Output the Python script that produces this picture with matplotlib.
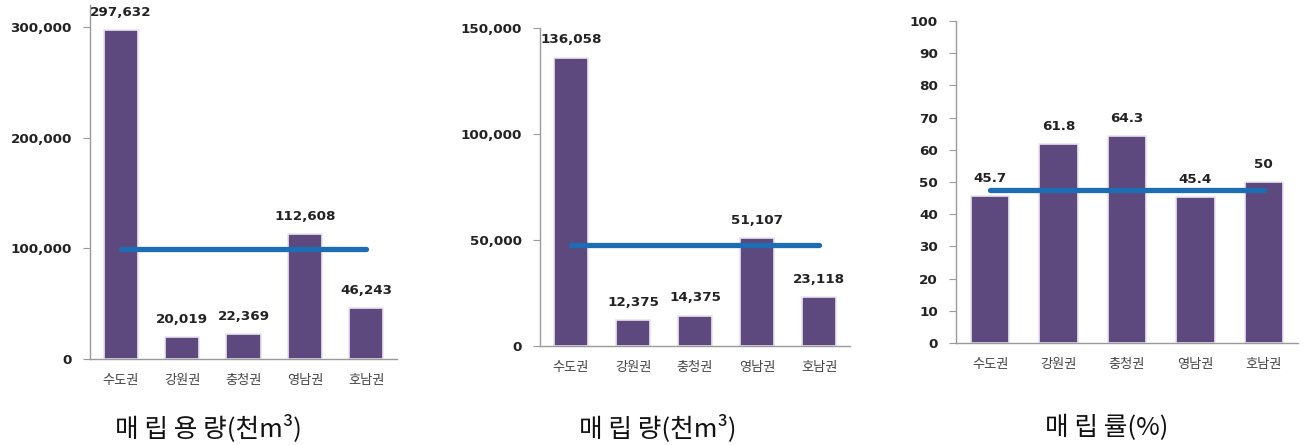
import matplotlib
matplotlib.use("Agg")
import matplotlib.pyplot as plt

plt.rcParams['font.family'] = ['Noto Sans CJK KR', 'DejaVu Sans']

regions = ["수도권", "강원권", "충청권", "영남권", "호남권"]
capacity = [297632, 20019, 22369, 112608, 46243]      # 매립용량 (천m³)
landfilled = [136058, 12375, 14375, 51107, 23118]     # 매립량 (천m³)
fill_rate = [45.7, 61.8, 64.3, 45.4, 50]              # 매립률 (%)

cap_ticks = [0, 100000, 200000, 300000]
land_ticks = [0, 50000, 100000, 150000]
rate_ticks = list(range(0, 101, 10))

titles = ["매 립 용 량(천m³)", "매 립 량(천m³)", "매 립 률(%)"]

BAR = "#5d497d"
EDGE = "#ebe4f3"
LINE = "#1d6db4"
AXIS = "#9a9a9a"

W, H = 1304, 445
fig = plt.figure(figsize=(W / 100, H / 100), dpi=100)
fig.patch.set_facecolor("white")


def box(left, right, top, bottom):
    return [left / W, 1 - bottom / H, (right - left) / W, (bottom - top) / H]


def panel(rect, values, ylim, ticks, avg, fmt, title, title_x):
    ax = fig.add_axes(rect)
    x = list(range(len(values)))
    ax.bar(x, values, width=0.56, color=BAR, edgecolor=EDGE, linewidth=1.2, zorder=2)
    ax.plot([x[0], x[-1]], [avg, avg], color=LINE, linewidth=3.8,
            solid_capstyle="round", zorder=3)
    for xi, v in zip(x, values):
        ax.annotate(fmt(v), (xi, v), xytext=(0, 8), textcoords="offset points",
                    ha="center", va="bottom", fontsize=9.7, fontweight="bold",
                    family="DejaVu Sans", color="#222222")
    ax.set_xlim(-0.5, len(values) - 0.5)
    ax.set_ylim(*ylim)
    ax.set_yticks(ticks)
    ax.set_yticklabels([fmt(t) for t in ticks], fontsize=9.7, fontweight="bold",
                       family="DejaVu Sans", color="#222222")
    ax.set_xticks(x)
    ax.set_xticklabels(regions, fontsize=9.5, color="#444444")
    ax.tick_params(axis="x", length=0, pad=11)
    ax.tick_params(axis="y", length=5, width=0.8, color=AXIS, pad=8)
    for s in ("top", "right"):
        ax.spines[s].set_visible(False)
    for s in ("left", "bottom"):
        ax.spines[s].set_color(AXIS)
        ax.spines[s].set_linewidth(1.0)
    fig.text(title_x / W, 1 - 428 / H, title, ha="center", va="center",
             fontsize=18.5, fontweight="light", color="#111111")
    return ax


def comma(v):
    return f"{v:,.0f}"


def plain(v):
    return f"{v:g}"


cap_avg = sum(capacity) / len(capacity)
land_avg = sum(landfilled) / len(landfilled)
rate_avg = sum(landfilled) / sum(capacity) * 100

panel(box(90, 397, 5, 359), capacity, (0, 320000), cap_ticks, cap_avg, comma,
      titles[0], 208)
panel(box(540, 850, 28, 346), landfilled, (0, 150000), land_ticks, land_avg, comma,
      titles[1], 658)
panel(box(956, 1298, 21, 343), fill_rate, (0, 100), rate_ticks, rate_avg, plain,
      titles[2], 1107)

fig.savefig("out.png", dpi=100, facecolor="white")
